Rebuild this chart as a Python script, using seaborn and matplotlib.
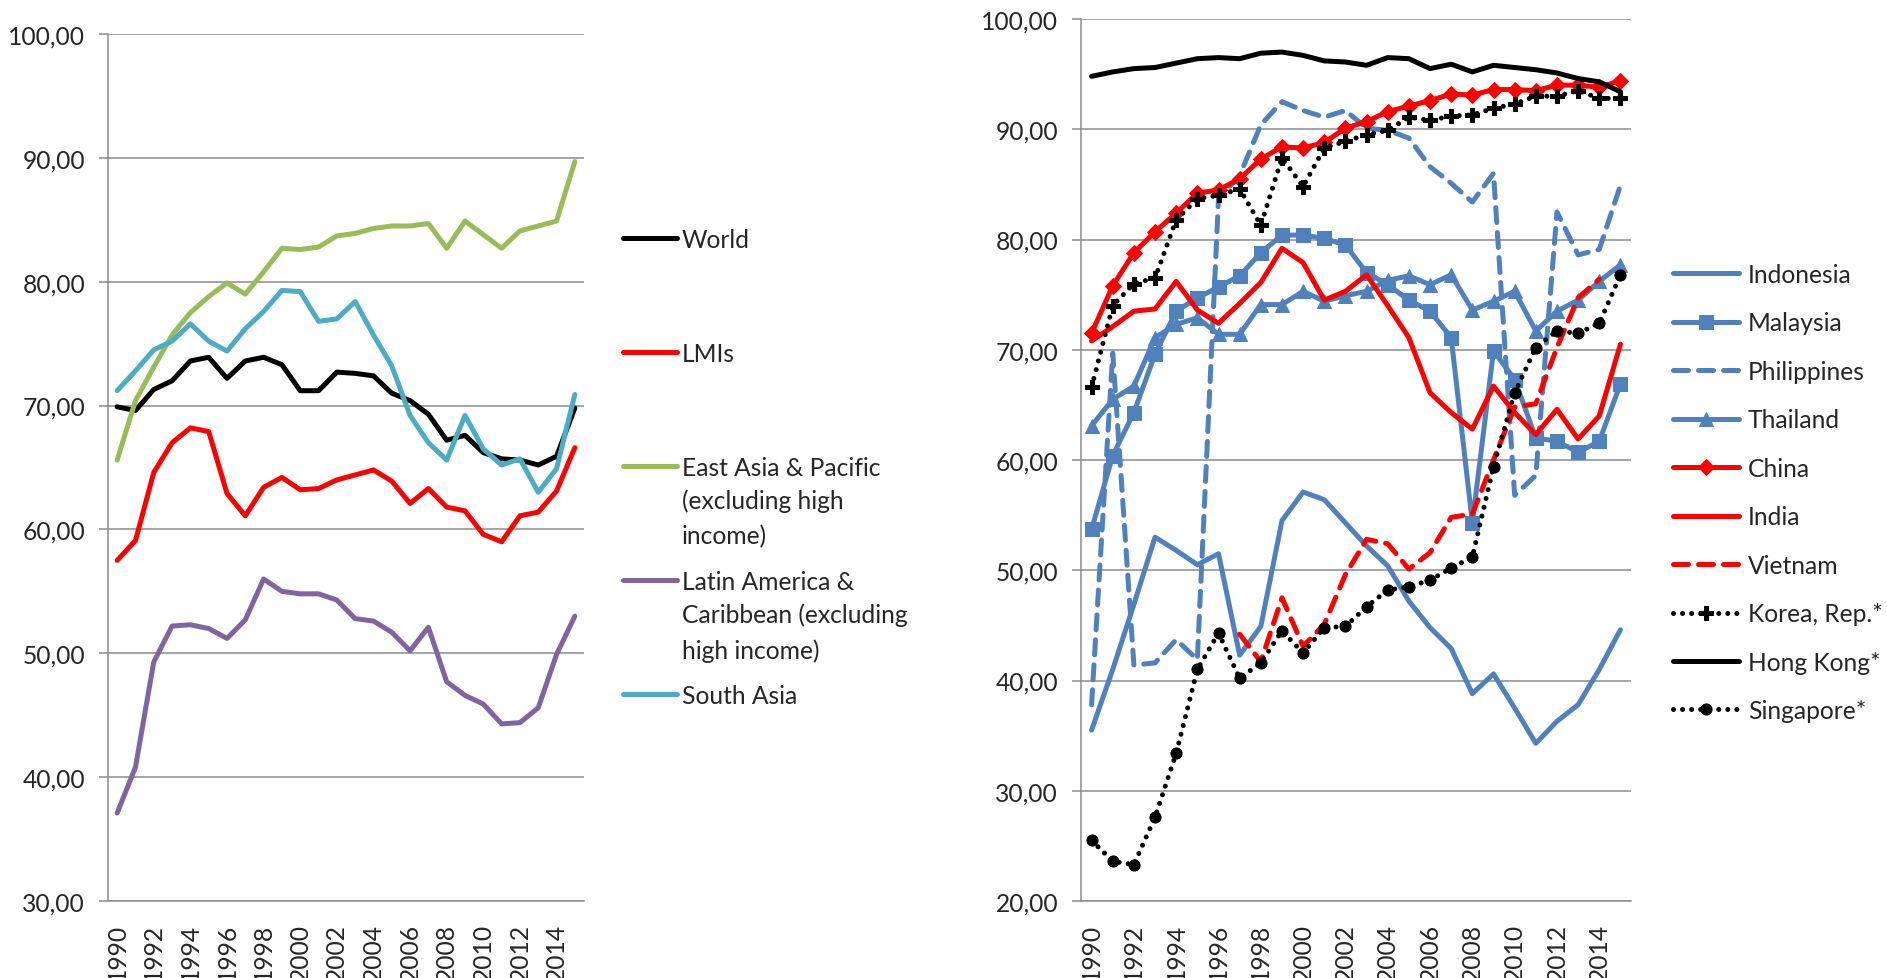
import numpy as np
import matplotlib
matplotlib.use("Agg")
import matplotlib.pyplot as plt
import seaborn as sns

years = list(range(1990, 2016))
nan = np.nan

# left panel: regional aggregates
world = [69.9, 69.6, 71.3, 72.0, 73.6, 73.9, 72.2, 73.6, 73.9, 73.3, 71.2, 71.2, 72.7,
         72.6, 72.4, 71.0, 70.4, 69.3, 67.2, 67.6, 66.2, 65.7, 65.6, 65.2, 65.9, 69.8]
lmis = [57.5, 59.1, 64.6, 67.0, 68.2, 67.9, 62.9, 61.1, 63.4, 64.2, 63.2, 63.3, 64.0,
        64.4, 64.8, 63.9, 62.1, 63.3, 61.8, 61.5, 59.6, 59.0, 61.1, 61.4, 63.1, 66.6]
east_asia = [65.6, 70.4, 73.1, 75.7, 77.5, 78.8, 79.9, 79.0, 80.8, 82.7, 82.6, 82.8, 83.7,
             83.9, 84.3, 84.5, 84.5, 84.7, 82.7, 84.9, 83.8, 82.7, 84.1, 84.5, 84.9, 89.7]
latin_america = [37.1, 40.8, 49.3, 52.2, 52.3, 52.0, 51.2, 52.7, 56.0, 55.0, 54.8, 54.8, 54.3,
                 52.8, 52.6, 51.7, 50.2, 52.1, 47.7, 46.6, 45.9, 44.3, 44.4, 45.6, 49.9, 53.0]
south_asia = [71.2, 72.8, 74.5, 75.2, 76.6, 75.2, 74.4, 76.2, 77.6, 79.3, 79.2, 76.8, 77.0,
              78.4, 75.7, 73.2, 69.2, 67.0, 65.6, 69.2, 66.5, 65.2, 65.7, 63.0, 64.9, 70.9]

# right panel: countries
indonesia = [35.5, 41.0, 46.9, 53.0, 51.8, 50.5, 51.5, 42.3, 44.9, 54.5, 57.1, 56.4, 54.3,
             52.2, 50.4, 47.2, 44.8, 42.9, 38.8, 40.6, 37.5, 34.3, 36.3, 37.8, 41.0, 44.6]
malaysia = [53.7, 60.4, 64.3, 69.6, 73.5, 74.7, 75.7, 76.7, 78.8, 80.4, 80.4, 80.1, 79.5,
            77.0, 75.9, 74.5, 73.5, 71.1, 54.3, 69.9, 67.3, 62.0, 61.7, 60.7, 61.7, 66.9]
philippines = [37.8, 69.7, 41.4, 41.6, 43.7, 41.9, 83.7, 85.8, 90.4, 92.5, 91.7, 91.1, 91.7,
               90.1, 89.9, 89.2, 86.6, 85.1, 83.4, 86.0, 56.8, 58.6, 82.5, 78.6, 79.1, 84.9]
thailand = [63.1, 65.5, 66.7, 71.1, 72.3, 72.9, 71.4, 71.4, 74.1, 74.1, 75.3, 74.4, 74.9,
            75.3, 76.3, 76.7, 75.9, 76.8, 73.6, 74.4, 75.3, 71.7, 73.5, 74.5, 76.2, 77.7]
china = [71.5, 75.8, 78.8, 80.7, 82.4, 84.2, 84.5, 85.5, 87.3, 88.4, 88.3, 88.8, 90.1,
         90.7, 91.6, 92.1, 92.6, 93.2, 93.1, 93.6, 93.6, 93.5, 94.0, 94.0, 93.8, 94.4]
india = [70.8, 72.1, 73.5, 73.7, 76.2, 73.6, 72.4, 74.2, 76.1, 79.2, 77.9, 74.5, 75.3,
         76.8, 74.0, 71.1, 66.1, 64.3, 62.8, 66.7, 64.3, 62.3, 64.6, 61.9, 64.0, 70.5]
vietnam = [nan, nan, nan, nan, nan, nan, nan, 44.2, 41.7, 47.5, 43.1, 45.1, 49.6,
           52.8, 52.4, 50.1, 51.6, 54.8, 55.1, 60.0, 64.8, 65.1, 70.2, 74.7, 76.4, nan]
korea = [66.6, 74.0, 76.0, 76.5, 81.8, 83.7, 84.0, 84.6, 81.3, 87.4, 84.8, 88.3, 88.9,
         89.5, 89.9, 91.1, 90.8, 91.2, 91.3, 91.9, 92.3, 93.0, 93.0, 93.5, 92.8, 92.8]
hong_kong = [94.8, 95.2, 95.5, 95.6, 96.0, 96.4, 96.5, 96.4, 96.9, 97.0, 96.7, 96.2, 96.1,
             95.8, 96.5, 96.4, 95.5, 95.9, 95.2, 95.8, 95.6, 95.4, 95.1, 94.6, 94.3, 93.4]
singapore = [25.5, 23.6, 23.3, 27.6, 33.4, 41.0, 44.3, 40.2, 41.6, 44.5, 42.5, 44.8, 44.9,
             46.7, 48.2, 48.5, 49.1, 50.2, 51.2, 59.4, 66.1, 70.2, 71.7, 71.5, 72.4, 76.8]

left_ticks = [30, 40, 50, 60, 70, 80, 90, 100]
right_ticks = [20, 30, 40, 50, 60, 70, 80, 90, 100]
year_labels = years[::2]

left_labels = ["World", "LMIs", "East Asia & Pacific", "Latin America &", "South Asia"]
left_more = ["", "", "(excluding high\nincome)", "Caribbean (excluding\nhigh income)", ""]

sns.set_style("white")
plt.rcParams["font.family"] = ["Lato", "DejaVu Sans"]
FS = 17.7
LW = 3.6
GRID = "#8c8c8c"
BLUE = "#4f81bd"
RED = "#ff0000"


def draw(ax, values, label, color, **kw):
    sns.lineplot(x=years, y=values, ax=ax, color=color, label=label, linewidth=LW,
                 markeredgecolor=color, estimator=None, legend=False,
                 solid_joinstyle="round", dash_capstyle="round", **kw)


def style_axes(ax, ticks):
    ax.set_xlim(1989.5, 2015.5)
    ax.set_ylim(ticks[0], ticks[-1])
    ax.set_yticks(ticks)
    ax.set_yticklabels([f"{t:.2f}".replace(".", ",") for t in ticks], fontsize=FS)
    ax.set_xticks(year_labels)
    ax.set_xticklabels([str(y) for y in year_labels], rotation=90, fontsize=FS)
    ax.set_xticks(np.arange(1989.5, 2016, 1.0), minor=True)
    ax.tick_params(axis="x", which="major", length=0, pad=16)
    ax.tick_params(axis="x", which="minor", length=6, width=1.1, color=GRID)
    ax.tick_params(axis="y", length=6.5, width=1.1, color=GRID, pad=10, left=True)
    ax.grid(axis="y", color=GRID, lw=1.1)
    ax.set_axisbelow(True)
    for s in ["top", "right"]:
        ax.spines[s].set_visible(False)
    for s in ["left", "bottom"]:
        ax.spines[s].set_color(GRID)
        ax.spines[s].set_linewidth(1.1)
    ax.set_xlabel("")
    ax.set_ylabel("")


fig = plt.figure(figsize=(18.87, 9.79), dpi=100)
ax1 = fig.add_axes([108 / 1887, 77 / 979, 476 / 1887, 867 / 979])
ax2 = fig.add_axes([1081 / 1887, 77 / 979, 550 / 1887, 882 / 979])

# left panel
draw(ax1, world, left_labels[0], "black")
draw(ax1, lmis, left_labels[1], RED)
draw(ax1, east_asia, left_labels[2], "#9bbb59")
draw(ax1, latin_america, left_labels[3], "#8064a2")
draw(ax1, south_asia, left_labels[4], "#4bacc6")
style_axes(ax1, left_ticks)

# right panel
dash = (0, (3, 2))
dots = (0, (0.01, 1.8))
draw(ax2, indonesia, "Indonesia", BLUE)
draw(ax2, malaysia, "Malaysia", BLUE, marker="s", markersize=9.5)
draw(ax2, philippines, "Philippines", BLUE, linestyle=dash)
draw(ax2, thailand, "Thailand", BLUE, marker="^", markersize=10.5)
draw(ax2, china, "China", RED, marker="D", markersize=8)
draw(ax2, india, "India", RED)
draw(ax2, vietnam, "Vietnam", RED, linestyle=dash)
draw(ax2, korea, "Korea, Rep.*", "black", linestyle=dots, marker="P", markersize=10)
draw(ax2, hong_kong, "Hong Kong*", "black")
draw(ax2, singapore, "Singapore*", "black", linestyle=dots, marker="o", markersize=8)
style_axes(ax2, right_ticks)

h1, l1 = ax1.get_legend_handles_labels()
leg1 = ax1.legend(h1, l1, loc="upper left", bbox_to_anchor=(623 / 1887, 1 - 229 / 979),
                  bbox_transform=fig.transFigure, frameon=False, fontsize=FS,
                  handlelength=2.2, handletextpad=0.2, labelspacing=3.7,
                  borderpad=0, borderaxespad=0)
for txt, more in zip(leg1.get_texts(), left_more):
    if more:
        ax1.annotate(more, xy=(0, 0), xycoords=txt, xytext=(0, -7),
                     textcoords="offset points", va="top", ha="left", fontsize=FS,
                     linespacing=1.6, annotation_clip=False, zorder=10)

h2, l2 = ax2.get_legend_handles_labels()
ax2.legend(h2, l2, loc="upper left", bbox_to_anchor=(1673 / 1887, 1 - 264 / 979),
           bbox_transform=fig.transFigure, frameon=False, fontsize=FS,
           handlelength=2.7, handletextpad=0.35, labelspacing=1.035,
           borderpad=0, borderaxespad=0)

fig.canvas.draw()
fig.savefig("out.png", dpi=100)
